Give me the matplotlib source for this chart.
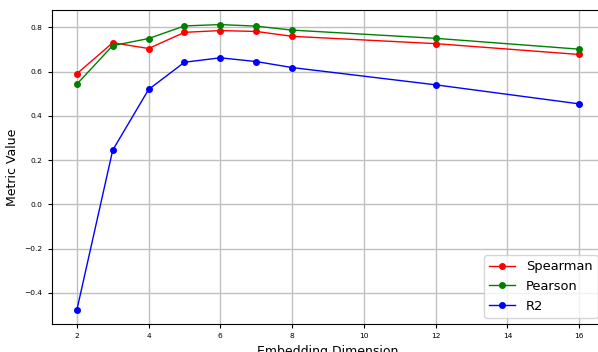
import numpy as np
import matplotlib
matplotlib.use("Agg")
import matplotlib.pyplot as plt

dims = [2, 3, 4, 5, 6, 7, 8, 12, 16]
spearman = [0.590, 0.730, 0.704, 0.777, 0.785, 0.781, 0.759, 0.726, 0.677]
pearson = [0.543, 0.717, 0.749, 0.806, 0.812, 0.805, 0.787, 0.750, 0.701]
r2 = [-0.477, 0.245, 0.519, 0.642, 0.662, 0.645, 0.618, 0.540, 0.454]

fig = plt.figure(figsize=(5.98, 3.52), dpi=100)
# the original picture is cropped, so the axes run past the right edge
ax = fig.add_axes([0.0865, 0.0787, 0.924, 0.892])

ax.plot(dims, spearman, marker="o", color="red", label="Spearman", linewidth=1.0, markersize=4)
ax.plot(dims, pearson, marker="o", color="green", label="Pearson", linewidth=1.0, markersize=4)
ax.plot(dims, r2, marker="o", color="blue", label="R2", linewidth=1.0, markersize=4)

ax.set_xlabel("Embedding Dimension", fontsize=9)
ax.set_ylabel("Metric Value", fontsize=9)
ax.tick_params(labelsize=5.4, length=3.1)
ax.grid(True, color="#c0c0c0", linewidth=1.0)
ax.legend(loc="lower right", fontsize=9.4)

fig.savefig("out.png", dpi=100)
